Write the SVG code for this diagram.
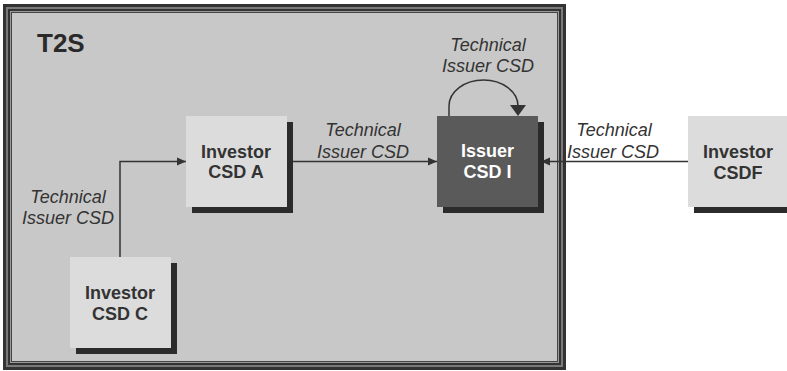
<svg xmlns="http://www.w3.org/2000/svg" width="787" height="371" viewBox="0 0 787 371">
<style>
.box{fill:#dcdcdc}
.dark{fill:#5a5a5a}
.shadow{fill:#2b2b2b}
.lbl{font-family:"Liberation Sans",Arial,sans-serif;font-weight:bold;font-size:18px;fill:#333;text-anchor:middle}
.lblw{fill:#fff}
.it{font-family:"Liberation Sans",Arial,sans-serif;font-style:italic;font-size:18px;fill:#333;text-anchor:middle}
.conn{fill:none;stroke:#333;stroke-width:1.5}
</style>
<defs>
<marker id="arr" markerUnits="userSpaceOnUse" markerWidth="10" markerHeight="10" refX="9" refY="5" orient="auto">
<path d="M0,1 L9,5 L0,9 Z" fill="#333"/>
</marker>
</defs>
<rect width="787" height="371" fill="#fff"/>
<g id="t2s">
<rect x="3" y="4" width="563" height="366" fill="#333"/>
<rect x="6" y="7" width="557" height="360" fill="#7a7a7a"/>
<rect x="8" y="9" width="553" height="356" fill="#333"/>
<rect x="10" y="11" width="549" height="352" fill="#999"/>
<rect x="11" y="12" width="547" height="350" fill="#444"/>
<rect x="12" y="13" width="545" height="348" fill="#c8c8c8"/>
<text x="37" y="52" font-family="'Liberation Sans',Arial,sans-serif" font-weight="bold" font-size="26" fill="#2a2a2a">T2S</text>
</g>
<g id="connectors">
<path class="conn" d="M120,257 V161.5 H186" marker-end="url(#arr)"/>
<path class="conn" d="M287,161.5 H437" marker-end="url(#arr)"/>
<path class="conn" d="M688,161.5 H541" marker-end="url(#arr)"/>
<path class="conn" d="M449,116 V106 A34.5,26 0 0 1 518,106"/>
<polygon points="510,105 526,105 518,116" fill="#333"/>
<text class="it" x="68" y="203">Technical</text>
<text class="it" x="68" y="224">Issuer CSD</text>
<text class="it" x="363" y="136">Technical</text>
<text class="it" x="363" y="158">Issuer CSD</text>
<text class="it" x="488" y="51">Technical</text>
<text class="it" x="488" y="72">Issuer CSD</text>
<text class="it" x="614" y="136">Technical</text>
<text class="it" x="613" y="158">Issuer CSD</text>
</g>
<g id="investor-csd-a">
<rect class="shadow" x="192" y="122" width="101" height="91"/>
<rect class="box" x="186" y="116" width="101" height="91"/>
<text class="lbl" x="236" y="158">Investor</text>
<text class="lbl" x="236" y="178">CSD A</text>
</g>
<g id="issuer-csd-i">
<rect class="shadow" x="443" y="122" width="101" height="91"/>
<rect class="dark" x="437" y="116" width="101" height="91"/>
<text class="lbl lblw" x="487.5" y="157">Issuer</text>
<text class="lbl lblw" x="487.5" y="178">CSD I</text>
</g>
<g id="investor-csd-c">
<rect class="shadow" x="76" y="263" width="101" height="91"/>
<rect class="box" x="70" y="257" width="101" height="91"/>
<text class="lbl" x="120" y="299">Investor</text>
<text class="lbl" x="120" y="320">CSD C</text>
</g>
<g id="investor-csdf">
<rect class="shadow" x="694" y="122" width="101" height="91"/>
<rect class="box" x="688" y="116" width="101" height="91"/>
<text class="lbl" x="738" y="158">Investor</text>
<text class="lbl" x="738" y="179">CSDF</text>
</g>
</svg>
